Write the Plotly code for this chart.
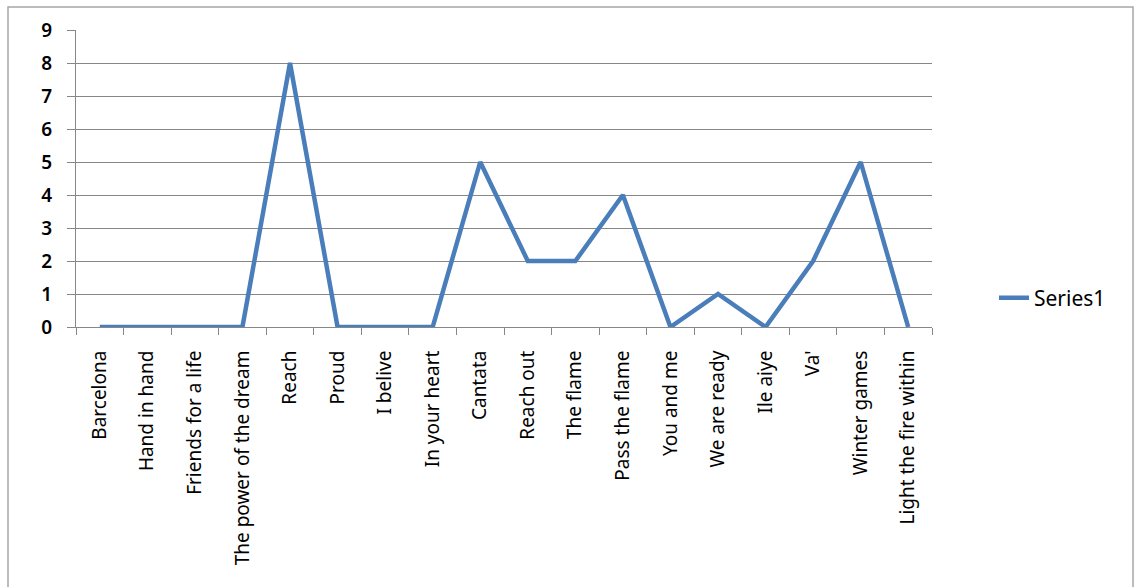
import plotly.graph_objects as go

# Song titles and the count recorded for each
songs = [
    "Barcelona", "Hand in hand", "Friends for a life", "The power of the dream",
    "Reach", "Proud", "I belive", "In your heart", "Cantata", "Reach out",
    "The flame", "Pass the flame", "You and me", "We are ready", "Ile aiye",
    "Va'", "Winter games", "Light the fire within",
]
series1 = [0, 0, 0, 0, 8, 0, 0, 0, 5, 2, 2, 4, 0, 1, 0, 2, 5, 0]
y_ticks = list(range(0, 10))

W, H = 1135, 587
L, R, T, B = 76, 203, 30, 260
pw, ph = W - L - R, H - T - B

def px_x(p):
    return (p - L) / pw

def px_y(p):
    return (H - B - p) / ph

n = len(songs)
boundaries = [i - 0.5 for i in range(n + 1)]

fig = go.Figure()
fig.add_trace(go.Scatter(
    x=songs, y=series1, mode="lines", name="Series1",
    line=dict(color="#4A7EBB", width=4.5),
))
# invisible helper trace so the boundary-tick axis gets drawn
fig.add_trace(go.Scatter(
    x=[boundaries[0], boundaries[-1]], y=[0, 0], xaxis="x2", mode="lines",
    line=dict(width=0), showlegend=False, hoverinfo="skip",
))

grid = "#878787"
fig.update_layout(
    width=W, height=H,
    margin=dict(l=L, r=R, t=T, b=B),
    paper_bgcolor="white", plot_bgcolor="white",
    font=dict(family="Noto Sans", size=15, color="#000000"),
    showlegend=True,
    legend=dict(
        x=px_x(994), y=px_y(298), xanchor="left", yanchor="middle",
        font=dict(size=21), bgcolor="rgba(0,0,0,0)",
    ),
    xaxis=dict(
        type="category", range=[-0.5, n - 0.5],
        ticks="", showgrid=False, showline=True, linecolor=grid, linewidth=1,
        tickangle=-90, tickfont=dict(size=19), ticklabelstandoff=15,
    ),
    xaxis2=dict(
        overlaying="x", side="bottom", anchor="y", type="linear",
        range=[-0.5, n - 0.5], tickvals=boundaries, ticks="outside",
        ticklen=7, tickcolor=grid, showticklabels=False, showgrid=False,
        showline=False, zeroline=False,
    ),
    yaxis=dict(
        range=[0, 9], tickvals=y_ticks, ticks="outside", ticklen=8,
        tickcolor=grid, showgrid=True, gridcolor=grid, gridwidth=1,
        showline=True, linecolor=grid, linewidth=1, zeroline=False,
        tickfont=dict(size=19, weight=600), ticklabelstandoff=11,
    ),
    shapes=[dict(
        type="rect", xref="paper", yref="paper",
        x0=px_x(8), x1=px_x(1133), y0=px_y(595), y1=px_y(7),
        line=dict(color="#A6A6A6", width=1.5), layer="below",
    )],
)

fig.write_html("out.html")
